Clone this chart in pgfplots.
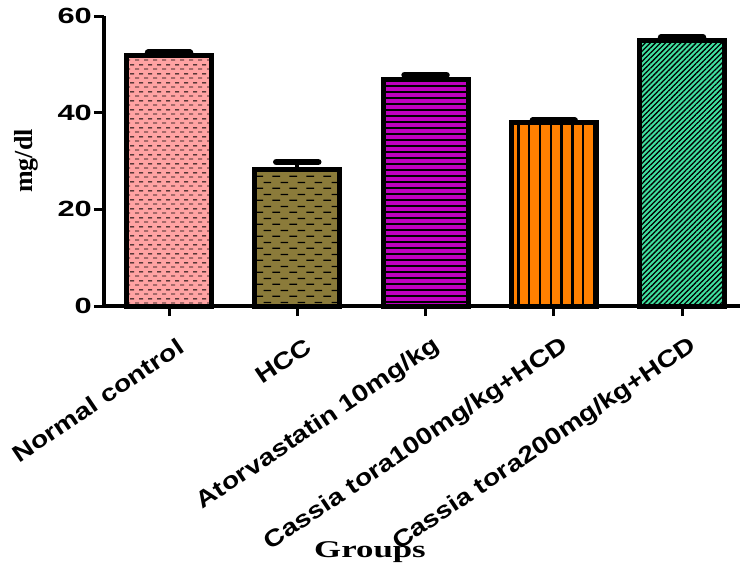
\documentclass[border=0pt]{standalone}
\usepackage{fontspec}
\usepackage{pgfplots}
\pgfplotsset{compat=1.18}
\usetikzlibrary{patterns,patterns.meta}
\setmainfont{Liberation Serif}
\newfontfamily\tickfont[FakeStretch=1.4]{Liberation Sans}
\newfontfamily\labfont[FakeStretch=1.2]{Liberation Sans}
\newfontfamily\serifw[FakeStretch=1.45]{Liberation Serif}
\definecolor{cpink}{RGB}{255,163,163}
\definecolor{colive}{RGB}{139,123,58}
\definecolor{cmag}{RGB}{192,0,192}
\definecolor{corange}{RGB}{255,128,0}
\definecolor{cgreen}{RGB}{64,224,160}
\pgfdeclarepattern{
  name=brickA, type=uncolored,
  bottom left={\pgfpoint{0pt}{0pt}}, top right={\pgfpoint{9pt}{9pt}},
  tile size={\pgfpoint{9pt}{9pt}},
  code={
    \pgfsetlinewidth{1pt}
    \pgfpathmoveto{\pgfpoint{0pt}{2.25pt}}\pgfpathlineto{\pgfpoint{4.6pt}{2.25pt}}
    \pgfpathmoveto{\pgfpoint{4.5pt}{6.75pt}}\pgfpathlineto{\pgfpoint{9pt}{6.75pt}}
    \pgfusepath{stroke}
  }
}
\pgfdeclarepattern{
  name=brickB, type=uncolored,
  bottom left={\pgfpoint{0pt}{0pt}}, top right={\pgfpoint{17pt}{11.6pt}},
  tile size={\pgfpoint{17pt}{11.6pt}},
  code={
    \pgfsetlinewidth{1.3pt}
    \pgfpathmoveto{\pgfpoint{0.5pt}{2.9pt}}\pgfpathlineto{\pgfpoint{8.5pt}{2.9pt}}
    \pgfpathmoveto{\pgfpoint{9pt}{8.7pt}}\pgfpathlineto{\pgfpoint{17pt}{8.7pt}}
    \pgfusepath{stroke}
  }
}
\pgfplotsset{
  barbase/.style={draw=black, line width=5pt, bar shift=0pt,
    error bars/.cd, y dir=plus, y explicit, error mark=|,
    error bar style={line width=4pt, draw=black, solid},
    error mark options={line width=6.5pt, mark size=21pt, line cap=round, draw=black}}
}
\begin{document}
\begin{tikzpicture}
\begin{axis}[
  scale only axis, width=636pt, height=290pt,
  xmin=-0.507, xmax=4.452, ymin=0, ymax=60,
  axis lines=left, axis line style={-, line width=3.5pt, black},
  ybar, bar width=85pt,
  xtick={0,1,2,3,4},
  xticklabels={Normal control, HCC, Atorvastatin 10mg/kg, Cassia tora100mg/kg+HCD, Cassia tora200mg/kg+HCD},
  ytick={0,20,40,60}, yticklabels={0,20,40,60},
  tick align=outside, major tick length=10pt, tick style={line width=3pt, black},
  yticklabel style={font=\tickfont\bfseries\fontsize{22}{22}\selectfont, anchor=east, inner sep=0pt, xshift=-2pt},
  xticklabel style={font=\labfont\bfseries\fontsize{23.5}{23.5}\selectfont, xshift=12pt, yshift=-28pt, rotate=34, anchor=east, inner sep=0pt},
  ylabel={mg/dl},
  every axis y label/.style={at={(rel axis cs:0,0.5)}, xshift=-66pt, rotate=90, anchor=south, inner sep=0pt, font=\bfseries\fontsize{26}{26}\selectfont},
  xlabel={Groups},
  every axis x label/.style={at={(rel axis cs:0,0)}, xshift=266pt, yshift=-251pt, anchor=base, inner sep=0pt, font=\serifw\bfseries\fontsize{24}{24}\selectfont},
  clip=false,
]
\coordinate (O) at (rel axis cs:0,0);
\addplot[preaction={fill=cpink}, pattern=brickA, pattern color=black, barbase] coordinates {(0,51.8) +- (0,0.6)};
\addplot[preaction={fill=colive}, pattern=brickB, pattern color=black, barbase] coordinates {(1,28.2) +- (0,1.6)};
\addplot[preaction={fill=cmag}, pattern={Lines[angle=0,distance=6pt,line width=2pt]}, pattern color=black, barbase] coordinates {(2,46.9) +- (0,0.9)};
\addplot[preaction={fill=corange}, pattern={Lines[angle=90,distance=10.8pt,line width=2.3pt]}, pattern color=black, barbase] coordinates {(3,37.9) +- (0,0.5)};
\addplot[preaction={fill=cgreen}, pattern={Lines[angle=45,distance=3.6pt,line width=1.3pt]}, pattern color=black, barbase] coordinates {(4,54.9) +- (0,0.7)};
\end{axis}
\pgfresetboundingbox
\path (O) ++(-104pt,-260pt) rectangle ++(740pt,566pt);
\end{tikzpicture}
\end{document}
